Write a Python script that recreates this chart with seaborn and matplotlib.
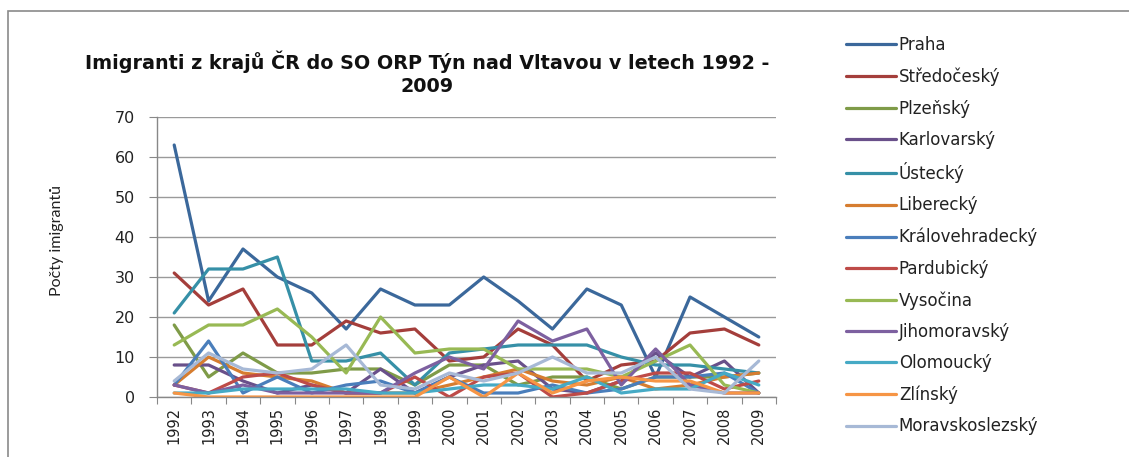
import matplotlib
matplotlib.use("Agg")
import matplotlib.pyplot as plt
import matplotlib.patches as mpatches
import pandas as pd
import seaborn as sns

years = [str(y) for y in range(1992, 2010)]

regions = [
    "Praha", "Středočeský", "Plzeňský", "Karlovarský", "Ústecký", "Liberecký",
    "Královehradecký", "Pardubický", "Vysočina", "Jihomoravský", "Olomoucký",
    "Zlínský", "Moravskoslezský",
]

praha = [63, 24, 37, 30, 26, 17, 27, 23, 23, 30, 24, 17, 27, 23, 5, 25, 20, 15]
stredocesky = [31, 23, 27, 13, 13, 19, 16, 17, 9, 10, 17, 13, 4, 8, 9, 16, 17, 13]
plzensky = [18, 5, 11, 6, 6, 7, 7, 3, 8, 8, 3, 5, 5, 2, 5, 5, 5, 6]
karlovarsky = [8, 8, 4, 1, 3, 1, 7, 1, 5, 8, 9, 2, 1, 4, 11, 5, 9, 1]
ustecky = [21, 32, 32, 35, 9, 9, 11, 3, 11, 12, 13, 13, 13, 10, 8, 8, 7, 6]
liberecky = [3, 10, 6, 5, 4, 1, 1, 1, 3, 5, 7, 4, 3, 5, 2, 3, 5, 6]
kralovehradecky = [3, 14, 1, 5, 1, 3, 4, 1, 5, 1, 1, 3, 1, 2, 5, 5, 6, 1]
pardubicky = [3, 1, 5, 6, 3, 1, 1, 5, 0, 5, 6, 0, 1, 4, 6, 6, 2, 4]
vysocina = [13, 18, 18, 22, 15, 6, 20, 11, 12, 12, 7, 7, 7, 5, 9, 13, 3, 1]
jihomoravsky = [3, 1, 3, 1, 1, 1, 1, 6, 10, 7, 19, 14, 17, 3, 12, 3, 1, 1]
olomoucky = [1, 1, 2, 2, 2, 2, 1, 1, 2, 3, 3, 2, 5, 1, 2, 2, 6, 3]
zlinsky = [1, 0, 0, 0, 0, 0, 0, 0, 5, 0, 6, 1, 4, 5, 4, 4, 1, 1]
moravskoslezsky = [4, 11, 7, 6, 7, 13, 3, 2, 6, 4, 6, 10, 6, 6, 10, 2, 1, 9]

series = [
    praha, stredocesky, plzensky, karlovarsky, ustecky, liberecky,
    kralovehradecky, pardubicky, vysocina, jihomoravsky, olomoucky,
    zlinsky, moravskoslezsky,
]

colors = [
    "#3B689B", "#A43E3B", "#7F9B48", "#69508A", "#3690A7", "#D67D30",
    "#4A7EBB", "#BE4B48", "#98B954", "#7D60A0", "#46AAC5", "#F69545",
    "#A7B9D6",
]

rows = []
for name, vals in zip(regions, series):
    for i, v in enumerate(vals):
        rows.append({"rok": i, "kraj": name, "pocet": v})
df = pd.DataFrame(rows)

sns.set_style("white")
plt.rcParams["font.family"] = ["DejaVu Sans"]

W, H = 1129, 457
fig = plt.figure(figsize=(W / 100, H / 100), dpi=100)
ax = fig.add_axes([157 / W, 1 - 397 / H, (776 - 157) / W, (397 - 117) / H])

sns.lineplot(
    data=df, x="rok", y="pocet", hue="kraj", hue_order=regions,
    palette=dict(zip(regions, colors)), linewidth=2.3, ax=ax,
)

ax.set_xlim(-0.5, len(years) - 0.5)
ax.set_ylim(0, 70)
ax.set_yticks(range(0, 71, 10))
# Excel-style category axis: tick marks between categories, labels centred
ax.set_xticks([i + 0.5 for i in range(-1, len(years))])
ax.set_xticklabels([])
ax.set_xticks(range(len(years)), minor=True)
ax.set_xticklabels(years, minor=True, rotation=90, fontsize=10.5, color="#222222")
ax.tick_params(axis="x", which="major", length=5, color="#888888", direction="out", bottom=True)
ax.tick_params(axis="x", which="minor", length=0, pad=7)
ax.tick_params(axis="y", length=6, color="#888888", direction="out", left=True,
               labelsize=11.5, labelcolor="#222222", pad=10)
ax.yaxis.grid(True, color="#9a9a9a", linewidth=1)
for s in ["top", "right"]:
    ax.spines[s].set_visible(False)
for s in ["left", "bottom"]:
    ax.spines[s].set_color("#888888")
    ax.spines[s].set_linewidth(1)
ax.set_xlabel("")
ax.set_ylabel("")

handles, labels = ax.get_legend_handles_labels()
ax.get_legend().remove()
fig.legend(
    handles, labels, loc="upper left",
    bbox_to_anchor=(838 / W, 1 - 28 / H), bbox_transform=fig.transFigure,
    frameon=False, fontsize=12, handlelength=3.0, handletextpad=0.15,
    labelspacing=0.8, borderpad=0, labelcolor="#222222",
)

fig.text(427 / W, 1 - 62 / H, "Imigranti z krajů ČR do SO ORP Týn nad Vltavou v letech 1992 -",
         ha="center", va="center", fontsize=13.8, fontweight="bold", color="#111111")
fig.text(427 / W, 1 - 86 / H, "2009", ha="center", va="center", fontsize=13.8,
         fontweight="bold", color="#111111")
fig.text(57 / W, 1 - 240 / H, "Počty imigrantů", rotation=90, ha="center", va="center",
         fontsize=11.5, family=["Liberation Sans Narrow", "Lato", "DejaVu Sans"], color="#222222")

frame = mpatches.Rectangle((8 / W, -0.2), 1.2, 1.2 - 11 / H, transform=fig.transFigure,
                           fill=False, edgecolor="#8a8a8a", linewidth=1.2)
fig.patches.append(frame)

fig.savefig("out.png", dpi=100)
